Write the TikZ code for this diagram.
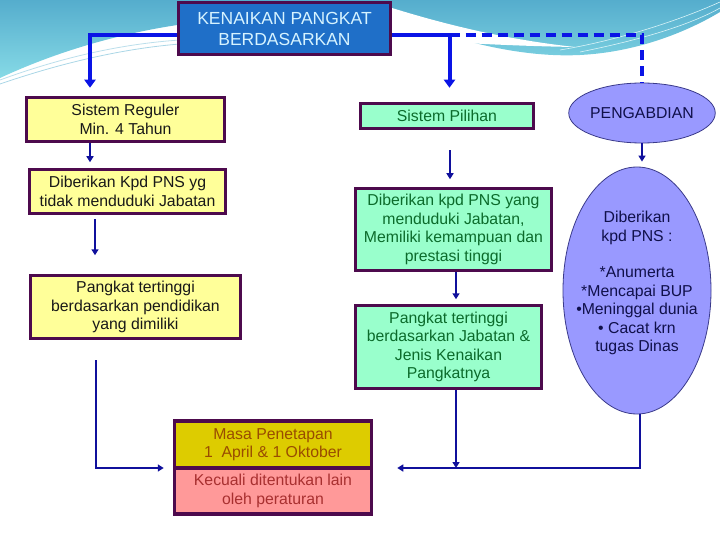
\documentclass[tikz,border=0pt]{standalone}
\usepackage{fontspec}
\setmainfont{Liberation Sans}
\usetikzlibrary{arrows.meta,shapes.geometric}
\definecolor{bord}{HTML}{4D0A4D}
\definecolor{titlefill}{HTML}{1F6FC8}
\definecolor{titletext}{HTML}{D6F3FF}
\definecolor{yfill}{HTML}{FFFF99}
\definecolor{gfill}{HTML}{99FFCC}
\definecolor{gtext}{HTML}{0B6B2B}
\definecolor{efill}{HTML}{9999FF}
\definecolor{eline}{HTML}{3A3A8A}
\definecolor{etext}{HTML}{10104A}
\definecolor{mfill}{HTML}{DDCC00}
\definecolor{mtext}{HTML}{994C00}
\definecolor{pfill}{HTML}{FF9999}
\definecolor{ptext}{HTML}{A83030}
\definecolor{thickblue}{HTML}{0A14E6}
\definecolor{thinblue}{HTML}{10109C}
\definecolor{tealA}{HTML}{55ADCD}
\definecolor{tealB}{HTML}{86DAE6}
\tikzset{
  bodyfont/.style={font=\fontsize{15.8}{18.4}\selectfont},
  box/.style={draw=bord, line width=3.5pt, inner sep=0pt, align=center, bodyfont},
  ybox/.style={box, fill=yfill, text=black!90},
  gbox/.style={box, fill=gfill, text=gtext},
  ell/.style={ellipse, draw=eline, line width=0.8pt, fill=efill, inner sep=0pt, text=etext, bodyfont},
  topline/.style={draw=thickblue, line width=4pt, -{Triangle[length=8pt,width=11pt]}},
  dashline/.style={draw=thickblue, line width=4pt, dash pattern=on 10pt off 6pt},
  thinarrow/.style={draw=thinblue, line width=2pt, -{Triangle[length=6pt,width=7pt]}},
  thinline/.style={draw=thinblue, line width=2pt}
}
\begin{document}
\begin{tikzpicture}[x=1pt,y=-1pt]
\useasboundingbox (0,0) rectangle (720,540);
% background swoosh
\shade[top color=tealA, bottom color=tealB]
  (0,0) -- (0,78) .. controls (60,50) and (130,30) .. (200,22) -- (392,15)
  .. controls (450,40) and (520,58) .. (580,55) .. controls (640,52) and (690,30) .. (720,12)
  -- (720,0) -- cycle;
\fill[white] (392,8) .. controls (450,26) and (510,40) .. (575,47)
  .. controls (510,46) and (440,42) .. (392,38) -- cycle;
\draw[white!60!tealA, line width=0.8pt] (0,80) .. controls (60,58) and (120,44) .. (180,40);
\draw[white!50!tealA, line width=0.8pt] (0,84) .. controls (70,60) and (130,48) .. (180,44);
\draw[white!70!tealB, line width=0.6pt] (560,50) .. controls (620,40) and (680,20) .. (720,2);
\draw[white!70!tealB, line width=0.6pt] (580,52) .. controls (640,40) and (690,25) .. (720,8);

% nodes
\node[box, fill=titlefill, text=titletext, minimum width=212pt, minimum height=52pt,
      font=\fontsize{17.5}{21}\selectfont] (title) at (284.5,28.5) {KENAIKAN PANGKAT\\BERDASARKAN};
\node[ybox, minimum width=198pt, minimum height=44pt] (reg) at (125.5,119.5) {Sistem Reguler\\Min. 4 Tahun};
\node[ybox, minimum width=196pt, minimum height=44pt] (tdk) at (127.5,191.5) {Diberikan Kpd PNS yg\\tidak menduduki Jabatan};
\node[ybox, minimum width=210pt, minimum height=63pt] (pt1) at (135.5,307) {Pangkat tertinggi\\berdasarkan pendidikan\\yang dimiliki};
\node[gbox, minimum width=173pt, minimum height=25pt] (pil) at (447,116) {Sistem Pilihan};
\node[gbox, minimum width=196pt, minimum height=82pt] (djb) at (453.5,229.5) {Diberikan kpd PNS yang\\menduduki Jabatan,\\Memiliki kemampuan dan\\prestasi tinggi};
\node[gbox, minimum width=186pt, minimum height=83pt] (pt2) at (448.5,347) {Pangkat tertinggi\\berdasarkan Jabatan \&\\Jenis Kenaikan\\Pangkatnya};
\node[box, fill=mfill, text=mtext, minimum width=197pt, minimum height=47pt] (masa) at (273,444.5) {Masa Penetapan\\1\ \ April \& 1 Oktober};
\node[box, fill=pfill, text=ptext, minimum width=197pt, minimum height=46pt] (kec) at (273,491) {Kecuali ditentukan lain\\oleh peraturan};
\node[ell, minimum width=120pt, minimum height=60pt] (peng) at (642,113) {PENGABDIAN};
\node[ell, minimum width=148pt, minimum height=247pt] (big) at (637,290.5) {};
\node[align=center, text=etext, bodyfont] (bigtext) at (637,283) {Diberikan\\kpd PNS :\\[18.4pt]*Anumerta\\*Mencapai BUP\\•Meninggal dunia\\• Cacat krn\\tugas Dinas};

% connectors
\coordinate (jL) at (90,35);
\coordinate (jR) at (449.5,35);
\draw[topline, shorten >=8pt] (title.west |- jL) -- (jL) -- (reg.north -| jL);
\draw[topline, shorten >=14pt] (title.east |- jR) -- (jR) -- (pil.north -| jR);
\draw[dashline] (jR) -- (jR -| peng.north) -- (peng.north);

\coordinate (x1) at (90,0);
\coordinate (x2) at (95,0);
\coordinate (x3) at (450,0);
\coordinate (x4) at (456,0);
\coordinate (x5) at (642,0);
\draw[thinarrow, shorten >=5.5pt] (reg.south -| x1) -- (tdk.north -| x1);
\draw[thinarrow, shorten <=4pt, shorten >=18.5pt] (tdk.south -| x2) -- (pt1.north -| x2);
\draw[thinarrow, shorten <=20pt, shorten >=7.5pt] (pil.south -| x3) -- (djb.north -| x3);
\draw[thinarrow, shorten >=4.5pt] (djb.south -| x4) -- (pt2.north -| x4);
\draw[thinarrow, shorten >=5pt] (peng.south -| x5) -- (big.north -| x5);

\coordinate (jB) at (456,468);
\coordinate (jE) at (640,468);
\coordinate (jW) at (95.5,468);
\draw[thinarrow] (pt2.south -| jB) -- (jB);
\draw[thinarrow, shorten >=24pt] (big.south -| jE) -- (jE) -- (jE -| kec.east);
\draw[thinarrow, shorten <=20pt, shorten >=9pt] (pt1.south -| jW) -- (jW) -- (jW -| kec.west);
\end{tikzpicture}
\end{document}
